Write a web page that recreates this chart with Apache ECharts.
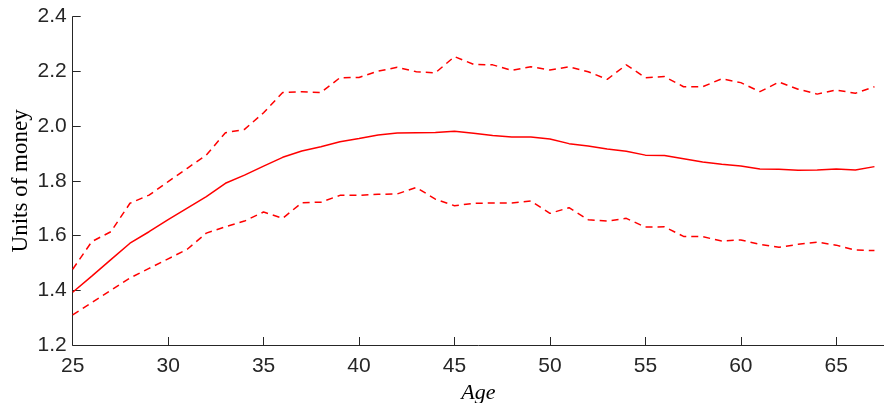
<!DOCTYPE html>
<html>
<head>
<meta charset="utf-8">
<script src="https://cdn.jsdelivr.net/npm/echarts@6/dist/echarts.min.js"></script>
<style>
  html, body { margin: 0; padding: 0; background: #fff; }
  #chart { width: 884px; height: 403px; }
</style>
</head>
<body>
<div id="chart"></div>
<script>
// Age from 25 to 67
const ages = [25,26,27,28,29,30,31,32,33,34,35,36,37,38,39,40,41,42,43,44,45,46,
              47,48,49,50,51,52,53,54,55,56,57,58,59,60,61,62,63,64,65,66,67];

// Mean income path
const meanValues = [1.393,1.452,1.512,1.572,1.614,1.658,1.700,1.742,1.791,1.821,1.854,
                    1.886,1.909,1.925,1.943,1.955,1.968,1.975,1.976,1.977,1.981,1.974,
                    1.966,1.960,1.960,1.953,1.936,1.927,1.916,1.908,1.894,1.893,1.881,
                    1.869,1.861,1.854,1.843,1.842,1.839,1.840,1.843,1.840,1.852];

// Upper band
const upperValues = [1.477,1.578,1.614,1.718,1.748,1.797,1.846,1.894,1.976,1.988,2.049,
                     2.123,2.126,2.123,2.177,2.178,2.201,2.215,2.199,2.195,2.254,2.226,
                     2.224,2.204,2.217,2.205,2.217,2.199,2.171,2.224,2.177,2.181,2.144,
                     2.144,2.173,2.159,2.126,2.161,2.135,2.117,2.132,2.120,2.144];

// Lower band
const lowerValues = [1.310,1.355,1.400,1.445,1.480,1.515,1.550,1.609,1.632,1.653,1.686,
                     1.663,1.720,1.722,1.747,1.747,1.751,1.752,1.776,1.733,1.709,1.718,
                     1.719,1.719,1.726,1.681,1.702,1.658,1.653,1.663,1.631,1.632,1.597,
                     1.596,1.580,1.584,1.568,1.557,1.568,1.576,1.565,1.547,1.545];

const xTicks = [25, 30, 35, 40, 45, 50, 55, 60, 65];
const yTicks = [1.2, 1.4, 1.6, 1.8, 2.0, 2.2, 2.4];

const pair = (vals) => ages.map((a, i) => [a, vals[i]]);

const axisColor = '#262626';
const red = '#ff0000';

const chart = echarts.init(document.getElementById('chart'), null, { renderer: 'canvas' });

chart.setOption({
  animation: false,
  backgroundColor: '#ffffff',
  grid: {
    left: 72.7, right: 0, top: 16.7, bottom: 58,
    containLabel: false,
    outerBoundsMode: 'none'
  },
  xAxis: {
    type: 'value',
    min: 25,
    max: 67.5,
    interval: 5,
    name: 'Age',
    nameLocation: 'middle',
    nameGap: 32,
    nameTextStyle: { fontFamily: 'Liberation Serif', fontStyle: 'italic', fontSize: 22, color: '#000' },
    axisLine: { show: true, lineStyle: { color: axisColor, width: 1 } },
    axisTick: { show: true, inside: true, length: 8, lineStyle: { color: axisColor } },
    axisLabel: {
      fontFamily: 'Liberation Sans', fontSize: 21, color: axisColor, margin: 11,
      formatter: (v) => (xTicks.includes(v) ? String(v) : '')
    },
    splitLine: { show: false }
  },
  yAxis: {
    type: 'value',
    min: 1.2,
    max: 2.4,
    interval: 0.2,
    name: 'Units of money',
    nameLocation: 'middle',
    nameGap: 40,
    nameMoveOverlap: false,
    nameTextStyle: { fontFamily: 'Liberation Serif', fontSize: 23, color: '#000' },
    axisLine: { show: true, lineStyle: { color: axisColor, width: 1 } },
    axisTick: { show: true, inside: true, length: 8, lineStyle: { color: axisColor } },
    axisLabel: {
      fontFamily: 'Liberation Sans', fontSize: 21, color: axisColor, margin: 6,
      formatter: (v) => {
        const t = yTicks.find((y) => Math.abs(y - v) < 1e-6);
        return t === undefined ? '' : t.toFixed(1);
      }
    },
    splitLine: { show: false }
  },
  series: [
    {
      type: 'line', data: pair(upperValues), symbol: 'none',
      lineStyle: { color: red, width: 1.5, type: [7, 5] }
    },
    {
      type: 'line', data: pair(meanValues), symbol: 'none',
      lineStyle: { color: red, width: 1.5 }
    },
    {
      type: 'line', data: pair(lowerValues), symbol: 'none',
      lineStyle: { color: red, width: 1.5, type: [7, 5] }
    }
  ]
});
</script>
</body>
</html>
